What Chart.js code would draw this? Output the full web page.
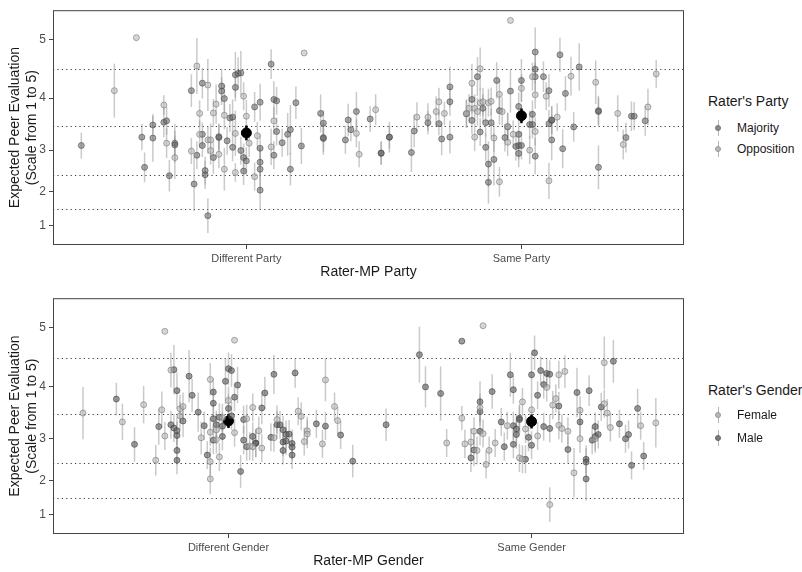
<!DOCTYPE html>
<html>
<head>
<meta charset="utf-8">
<script src="https://cdn.jsdelivr.net/npm/chart.js@4"></script>
<style>
  body { margin: 0; background: #fff; width: 802px; height: 572px; position: relative; overflow: hidden;
         font-family: "Liberation Sans", Arial, sans-serif; }
  canvas { position: absolute; left: 0; }
  #partyChart { top: 0; }
  #genderChart { top: 288px; }
  .lg-title { position: absolute; left: 708px; font-size: 14px; line-height: 17px; color: #1a1a1a; white-space: nowrap; }
  .lg-item { position: absolute; left: 737px; font-size: 12px; line-height: 16px; color: #1a1a1a; white-space: nowrap; }
  .lg-icon { position: absolute; left: 714px; width: 8px; height: 16px; }
  .lg-icon .bar { position: absolute; left: 3.5px; top: 0; width: 1px; height: 16px; background: rgba(150,150,150,0.7); }
  .lg-icon .dot { position: absolute; left: 1px; top: 5px; width: 6px; height: 6px; border-radius: 50%; box-sizing: border-box; }
</style>
</head>
<body>
<canvas id="partyChart" width="690" height="290"></canvas>
<canvas id="genderChart" width="690" height="284"></canvas>

<div class="lg-title" style="top:93px">Rater's Party</div>
<div class="lg-icon" style="top:120px"><div class="bar"></div><div class="dot" style="background:#8a8a8a;border:1px solid #777"></div></div>
<div class="lg-item" style="top:120px">Majority</div>
<div class="lg-icon" style="top:141px"><div class="bar"></div><div class="dot" style="background:#b8b8b8;border:1px solid #999"></div></div>
<div class="lg-item" style="top:141px">Opposition</div>

<div class="lg-title" style="top:382px">Rater's Gender</div>
<div class="lg-icon" style="top:407px"><div class="bar"></div><div class="dot" style="background:#b8b8b8;border:1px solid #999"></div></div>
<div class="lg-item" style="top:407px">Female</div>
<div class="lg-icon" style="top:430px"><div class="bar"></div><div class="dot" style="background:#7a7a7a;border:1px solid #666"></div></div>
<div class="lg-item" style="top:430px">Male</div>

<script>
// categories and axis labels
var partyCats = ['Different Party', 'Same Party'];
var genderCats = ['Different Gender', 'Same Gender'];
var tickLabels = ['1', '2', '3', '4', '5'];
// where the labels sit on the latent scale, and the dotted thresholds
var tickLatent = [1.0, 1.73, 2.63, 3.75, 5.01];
var cutpoints = [1.36, 2.10, 3.15, 4.37];

// [jittered position, estimate, half CI]
var partyMajority = [
  [0.40,2.73,0.28],[0.62,2.91,0.28],[0.63,2.26,0.32],[0.66,2.89,0.51],[0.66,3.17,0.20],[0.70,3.23,0.32],[0.71,3.26,0.30],
  [0.72,2.08,0.34],[0.74,2.78,0.42],[0.74,2.74,0.30],[0.80,3.91,0.35],[0.81,1.90,0.58],[0.82,2.52,0.30],[0.84,2.97,0.25],
  [0.84,2.73,0.25],[0.84,4.07,0.33],[0.85,2.19,0.30],[0.85,2.10,0.30],[0.86,1.22,0.37],[0.88,2.47,0.35],[0.90,2.90,0.30],
  [0.90,2.92,0.28],[0.91,4.01,0.35],[0.91,3.90,0.30],[0.92,3.74,0.30],[0.93,2.83,0.30],[0.94,3.32,0.30],[0.95,3.34,0.38],
  [0.95,2.69,0.30],[0.96,4.25,0.49],[0.96,3.98,0.30],[0.97,4.28,0.35],[0.98,4.29,0.47],[0.98,2.62,0.30],[0.99,2.47,0.30],
  [0.99,2.18,0.30],[1.00,2.40,0.30],[1.03,3.56,0.32],[1.05,2.67,0.30],[1.05,3.66,0.40],[1.05,1.77,0.42],[1.05,2.37,0.30],
  [1.05,2.22,0.46],[1.09,4.48,0.32],[1.10,3.72,0.39],[1.10,2.52,0.30],[1.11,3.03,0.30],[1.11,3.69,0.30],[1.13,2.79,0.30],
  [1.15,2.97,0.46],[1.16,3.07,0.53],[1.16,2.22,0.35],[1.18,3.65,0.35],[1.20,2.72,0.39],[1.27,3.42,0.41],[1.28,3.21,0.28],
  [1.28,2.88,0.35],[1.28,2.90,0.30],[1.36,2.85,0.30],[1.37,3.28,0.35],[1.38,3.07,0.25],[1.40,3.46,0.42],[1.45,3.30,0.28],
  [1.49,2.57,0.25],[1.52,2.91,0.25],
  [1.49,2.56,0.25],[1.52,2.91,0.33],[1.60,2.58,0.42],[1.61,3.04,0.35],[1.66,3.22,0.25],[1.70,3.20,0.25],[1.71,2.87,0.35],
  [1.74,2.91,0.35],[1.74,3.99,0.44],[1.74,3.67,0.30],[1.80,3.41,0.30],[1.82,3.72,0.30],[1.82,3.27,0.30],[1.84,4.21,0.42],
  [1.85,3.02,0.30],[1.86,3.53,0.30],[1.87,2.69,0.30],[1.87,3.22,0.30],[1.88,2.33,0.49],[1.88,1.94,0.46],[1.89,3.22,0.30],
  [1.90,2.43,0.56],[1.91,4.13,0.39],[1.92,3.48,0.30],[1.94,2.90,0.30],[1.95,3.13,0.30],[1.96,3.90,0.46],[1.98,2.71,0.30],
  [1.99,3.57,0.30],[1.99,2.56,0.30],[1.99,2.73,0.30],[1.99,2.97,0.30],[2.00,2.73,0.30],[2.00,4.13,0.46],[2.03,3.18,0.30],
  [2.04,3.18,0.30],[2.04,3.40,0.30],[2.05,2.50,0.39],[2.05,4.37,0.30],[2.05,4.74,0.53],[2.05,4.21,0.30],[2.08,4.21,0.33],
  [2.10,3.20,0.30],[2.10,3.91,0.35],[2.11,3.27,0.30],[2.11,3.28,0.30],[2.11,2.85,0.44],[2.14,4.68,0.37],[2.15,2.66,0.42],
  [2.16,3.85,0.37],[2.19,3.13,0.32],[2.21,4.42,0.51],[2.28,3.48,0.32],[2.28,2.26,0.47],[2.28,3.46,0.30],[2.38,2.90,0.32],
  [2.40,3.36,0.32],[2.41,3.36,0.30],[2.45,3.26,0.32]
];
var partyOpposition = [
  [0.60,5.05,0],[0.52,3.91,0.58],[0.70,3.60,0.21],[0.71,2.78,0.32],[0.74,2.47,0.46],[0.80,2.61,0.28],[0.82,4.44,0.60],
  [0.83,3.42,0.28],[0.83,2.97,0.30],[0.86,2.85,0.30],[0.86,4.03,0.56],[0.87,2.85,0.35],[0.87,2.62,0.30],[0.88,3.43,0.30],
  [0.89,3.62,0.42],[0.90,2.54,0.30],[0.92,3.38,0.30],[0.92,2.22,0.46],[0.96,2.99,0.49],[0.96,2.15,0.20],[0.99,3.79,0.30],
  [1.00,3.36,0.35],[1.01,2.78,0.30],[1.03,2.06,0.30],[1.04,2.94,0.30],[1.09,2.70,0.39],[1.10,3.26,0.30],[1.21,4.72,0],
  [1.40,2.99,0.30],[1.41,2.54,0.28],[1.47,3.50,0.33],
  [1.62,3.34,0.32],[1.66,3.34,0.30],[1.69,3.46,0.33],[1.70,3.67,0.30],[1.72,3.42,0.25],[1.80,3.42,0.30],[1.81,3.53,0.30],
  [1.82,4.07,0.42],[1.83,2.91,0.30],[1.83,3.53,0.30],[1.84,3.46,0.30],[1.85,3.65,0.30],[1.85,4.38,0.46],[1.86,3.67,0.30],
  [1.88,3.65,0.30],[1.89,3.68,0.30],[1.90,2.89,0.30],[1.92,3.83,0.32],[1.92,1.95,0.32],[1.93,3.46,0.30],[1.95,2.80,0.30],
  [1.95,3.14,0.30],[1.96,5.42,0],[1.97,2.97,0.30],[2.00,3.96,0.30],[2.03,2.63,0.30],[2.04,4.21,0.30],[2.05,3.03,0.30],
  [2.05,3.82,0.30],[2.09,3.79,0.30],[2.10,1.97,0.39],[2.13,3.34,0.30],[2.18,4.22,0.42],[2.27,4.09,0.47],[2.35,3.42,0.39],
  [2.37,2.75,0.32],[2.46,3.56,0.39],[2.49,4.27,0.30]
];
var partyMeans = [[1.00,3.00,0.16],[2.00,3.37,0.16]];

var genderFemale = [
  [0.52,3.18,0.56],[0.65,2.99,0.39],[0.72,3.36,0.40],[0.76,2.17,0.33],[0.78,3.25,0.39],[0.79,4.93,0],[0.79,2.69,0.30],
  [0.81,4.10,0.37],[0.84,3.12,0.30],[0.84,3.27,0.30],[0.85,3.32,0.30],[0.91,2.65,0.35],[0.94,2.14,0.30],[0.94,2.77,0.30],
  [0.94,3.90,0.35],[0.94,1.77,0.32],[0.96,2.61,0.30],[0.96,2.82,0.30],[0.97,2.24,0.30],[0.98,3.08,0.30],[1.00,3.45,0.30],
  [1.02,4.74,0],[1.02,2.76,0.30],[1.06,3.06,0.30],[1.07,2.47,0.30],[1.08,2.46,0.30],[1.08,3.30,0.30],[1.10,2.80,0.30],
  [1.11,2.43,0.30],[1.15,2.65,0.30],[1.16,3.04,0.30],[1.23,3.22,0.30],[1.24,3.11,0.30],[1.25,2.57,0.30],[1.26,2.80,0.30],
  [1.26,2.73,0.30],[1.31,2.52,0.30],[1.32,3.89,0.46],[1.35,3.32,0.30],[1.36,3.02,0.30],
  [1.72,2.54,0.30],[1.77,3.07,0.26],[1.78,2.52,0.30],[1.80,2.56,0.30],[1.81,2.79,0.30],[1.82,2.38,0.30],[1.83,3.30,0.30],
  [1.84,2.74,0.30],[1.85,2.08,0.30],[1.86,2.38,0.30],[1.84,5.05,0],[1.88,2.54,0.30],[1.92,2.91,0.30],[1.96,2.22,0.30],
  [1.97,2.19,0.30],[1.97,3.42,0.30],[1.98,2.84,0.30],[2.00,3.25,0.30],[2.02,2.69,0.30],[2.05,3.73,0.30],[2.06,1.22,0.37],
  [2.07,3.35,0.30],[2.08,3.49,0.30],[2.09,2.92,0.30],[2.09,4.00,0.30],[2.10,2.85,0.30],[2.11,4.07,0.35],[2.12,2.79,0.30],
  [2.14,1.90,0.53],[2.16,3.24,0.30],[2.16,2.63,0.30],[2.21,2.63,0.30],[2.24,4.26,0.56],[2.24,3.38,0.30],[2.25,3.18,0.30],
  [2.26,2.87,0.30],[2.36,2.91,0.30],[2.41,2.97,0.53]
];
var genderMale = [
  [0.63,3.48,0.35],[0.69,2.51,0.37],[0.77,2.89,0.39],[0.81,2.93,0.30],[0.82,2.86,0.30],[0.82,4.11,0.53],[0.83,2.70,0.30],
  [0.83,2.80,0.30],[0.83,3.66,0.39],[0.83,2.38,0.30],[0.83,2.17,0.30],[0.85,3.01,0.35],[0.87,3.97,0.56],[0.88,3.56,0.35],
  [0.90,3.20,0.42],[0.92,2.91,0.30],[0.93,2.28,0.30],[0.95,3.06,0.30],[0.95,2.60,0.30],[0.95,3.39,0.30],[0.95,3.63,0.30],
  [0.96,2.93,0.30],[0.97,3.09,0.30],[0.98,2.68,0.30],[0.98,2.90,0.30],[0.99,3.86,0.49],[1.00,4.13,0.35],[1.00,3.28,0.30],
  [1.01,4.09,0.35],[1.01,3.12,0.30],[1.02,3.52,0.30],[1.03,3.78,0.39],[1.04,1.93,0.35],[1.05,3.04,0.30],[1.05,2.60,0.30],
  [1.06,2.46,0.30],[1.08,2.68,0.30],[1.09,2.53,0.30],[1.09,2.54,0.30],[1.11,3.29,0.35],[1.12,3.61,0.35],[1.14,2.66,0.30],
  [1.15,4.01,0.42],[1.16,2.93,0.30],[1.17,2.93,0.30],[1.18,2.82,0.30],[1.18,2.56,0.30],[1.18,2.38,0.30],[1.19,2.58,0.30],
  [1.19,2.72,0.30],[1.20,2.73,0.30],[1.21,2.53,0.30],[1.21,2.45,0.30],[1.21,2.28,0.30],[1.22,4.04,0.32],[1.29,2.95,0.30],
  [1.32,2.90,0.30],[1.37,2.71,0.30],[1.41,2.15,0.35],[1.52,2.93,0.35],
  [1.63,4.43,0.60],[1.65,3.74,0.44],[1.70,3.60,0.58],[1.77,4.72,0],[1.80,2.22,0.30],[1.81,2.39,0.35],[1.83,3.21,0.30],
  [1.83,3.42,0.44],[1.83,2.79,0.30],[1.87,3.64,0.37],[1.90,2.99,0.30],[1.91,2.46,0.30],[1.93,4.00,0.47],[1.94,2.51,0.30],
  [1.94,2.91,0.30],[1.94,3.68,0.30],[1.95,2.72,0.30],[1.95,2.84,0.30],[1.96,3.07,0.30],[1.96,3.04,0.30],[1.98,2.19,0.30],
  [1.99,2.66,0.30],[2.00,2.49,0.30],[2.00,4.00,0.46],[2.01,4.47,0.37],[2.02,3.56,0.30],[2.03,4.09,0.30],[2.04,3.79,0.30],
  [2.04,2.89,0.30],[2.05,4.03,0.30],[2.06,2.85,0.30],[2.06,4.01,0.30],[2.09,3.33,0.30],[2.12,2.40,0.30],[2.15,3.62,0.53],
  [2.16,2.99,0.30],[2.18,2.19,0.30],[2.18,2.13,0.30],[2.18,1.77,0.46],[2.19,3.66,0.33],[2.20,2.60,0.30],[2.21,2.68,0.30],
  [2.21,2.89,0.30],[2.22,2.72,0.30],[2.23,3.31,0.30],[2.27,4.29,0.46],[2.29,2.95,0.30],[2.31,2.63,0.30],[2.32,2.72,0.30],
  [2.33,2.06,0.30],[2.35,3.28,0.42],[2.37,2.26,0.30]
];
var genderMeans = [[1.00,3.01,0.15],[2.00,3.00,0.15]];

Chart.defaults.font.family = '"Liberation Sans", Arial, sans-serif';

// dotted thresholds, error bars, panel border
var panelPlugin = {
    id: 'panel',
    beforeDatasetsDraw: function (chart) {
        var ctx = chart.ctx, a = chart.chartArea;
        var xs = chart.scales.x, ys = chart.scales.y;
        ctx.save();
        ctx.strokeStyle = '#3a3a3a';
        ctx.lineWidth = 1.2;
        ctx.setLineDash([1.2, 3.2]);
        cutpoints.forEach(function (c) {
            var y = Math.round(ys.getPixelForValue(c)) + 0.5;
            ctx.beginPath();
            ctx.moveTo(a.left, y);
            ctx.lineTo(a.right, y);
            ctx.stroke();
        });
        ctx.setLineDash([]);
        chart.data.datasets.forEach(function (ds) {
            ctx.strokeStyle = ds.barColor;
            ctx.lineWidth = ds.barWidth;
            ds.data.forEach(function (p, i) {
                var e = ds.err[i];
                if (!e) return;
                var x = xs.getPixelForValue(p.x);
                ctx.beginPath();
                ctx.moveTo(x, ys.getPixelForValue(p.y - e));
                ctx.lineTo(x, ys.getPixelForValue(p.y + e));
                ctx.stroke();
            });
        });
        ctx.restore();
    },
    afterDraw: function (chart) {
        var ctx = chart.ctx, a = chart.chartArea;
        ctx.save();
        ctx.strokeStyle = '#444';
        ctx.lineWidth = 1;
        ctx.strokeRect(a.left + 0.5, a.top + 0.5, a.right - a.left - 1, a.bottom - a.top - 1);
        ctx.restore();
    }
};

function series(pts, fill, line, radius, barColor, barWidth) {
    return {
        data: pts.map(function (p) { return { x: p[0], y: p[1] }; }),
        err: pts.map(function (p) { return p[2]; }),
        backgroundColor: fill,
        borderColor: line,
        borderWidth: 1,
        pointRadius: radius,
        barColor: barColor,
        barWidth: barWidth
    };
}

function makePanel(id, cats, xMin, xMax, datasets, xTitle, xAxisH, titlePad) {
    new Chart(document.getElementById(id).getContext('2d'), {
        type: 'scatter',
        data: { datasets: datasets },
        options: {
            responsive: false,
            animation: false,
            events: [],
            layout: { padding: { top: 7, right: 4, left: 0, bottom: 0 } },
            plugins: { legend: { display: false }, tooltip: { enabled: false } },
            scales: {
                x: {
                    type: 'linear', min: xMin, max: xMax,
                    afterBuildTicks: function (s) { s.ticks = cats.map(function (c, i) { return { value: i + 1 }; }); },
                    ticks: {
                        callback: function (v) { return cats[Math.round(v) - 1]; },
                        color: '#4d4d4d', font: { size: 11 }, padding: 3, autoSkip: false, maxRotation: 0
                    },
                    grid: { display: true, drawOnChartArea: false, drawTicks: true, tickLength: 4, color: '#444' },
                    border: { display: false },
                    title: { display: true, text: xTitle, color: '#1a1a1a', font: { size: 14 }, padding: { top: 0, bottom: titlePad } },
                    afterFit: function (s) { s.height = xAxisH; }
                },
                y: {
                    type: 'linear', min: 0.59, max: 5.64,
                    afterBuildTicks: function (s) { s.ticks = tickLatent.map(function (v) { return { value: v }; }); },
                    ticks: {
                        callback: function (v, i) { return tickLabels[i]; },
                        color: '#4d4d4d', font: { size: 12 }, padding: 3
                    },
                    grid: { display: true, drawOnChartArea: false, drawTicks: true, tickLength: 4, color: '#444' },
                    border: { display: false },
                    title: {
                        display: true, text: ['Expected Peer Evaluation', '(Scale from 1 to 5)'],
                        color: '#1a1a1a', font: { size: 14 }, padding: { top: 7, bottom: 0 }
                    },
                    afterFit: function (s) { s.width = 53; }
                }
            }
        },
        plugins: [panelPlugin]
    });
}

var barGrey = 'rgba(150,150,150,0.5)';

makePanel('partyChart', partyCats, 0.297, 2.591, [
    series(partyOpposition, 'rgba(180,180,180,0.55)', 'rgba(120,120,120,0.6)', 3, barGrey, 1.5),
    series(partyMajority, 'rgba(100,100,100,0.55)', 'rgba(75,75,75,0.6)', 3, barGrey, 1.5),
    series(partyMeans, '#000', '#000', 5, '#000', 2.5)
], 'Rater-MP Party', 45, 9);

makePanel('genderChart', genderCats, 0.421, 2.503, [
    series(genderFemale, 'rgba(180,180,180,0.55)', 'rgba(120,120,120,0.6)', 3, barGrey, 1.5),
    series(genderMale, 'rgba(90,90,90,0.6)', 'rgba(65,65,65,0.6)', 3, barGrey, 1.5),
    series(genderMeans, '#000', '#000', 5, '#000', 2.5)
], 'Rater-MP Gender', 38, 2);
</script>
</body>
</html>
